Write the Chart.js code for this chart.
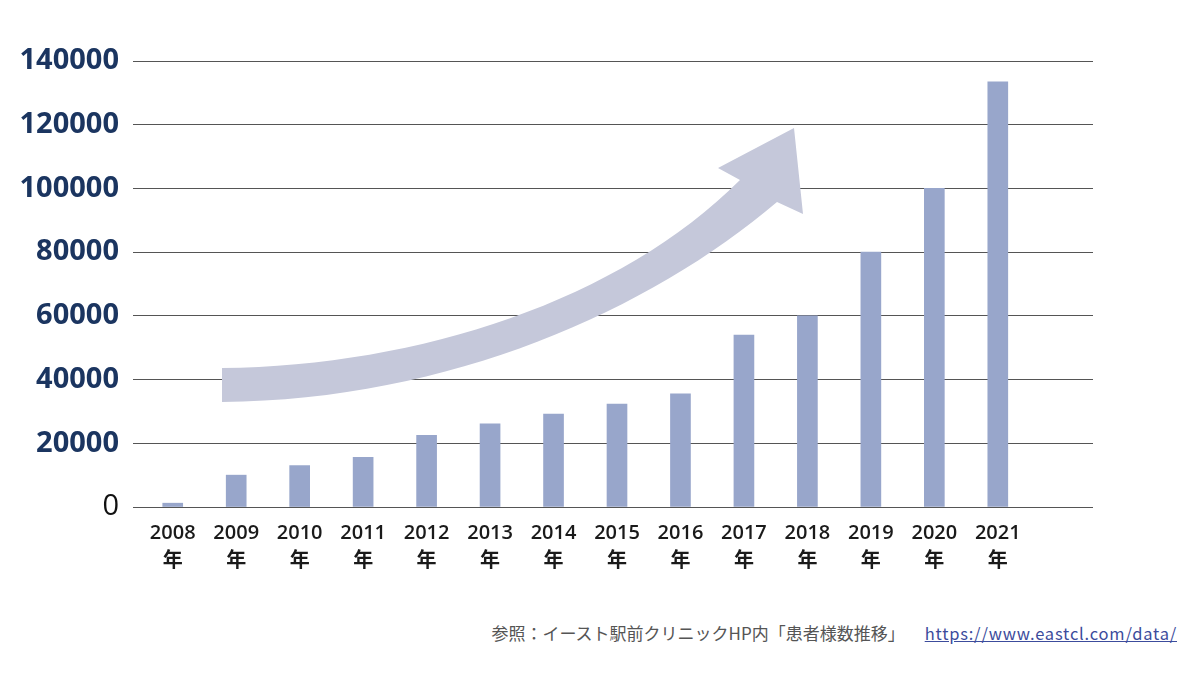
<!DOCTYPE html>
<html lang="ja">
<head>
<meta charset="utf-8">
<script src="https://cdn.jsdelivr.net/npm/chart.js@4/dist/chart.umd.min.js"></script>
<style>
  body { margin: 0; background: #fff; width: 1200px; height: 675px; position: relative; overflow: hidden; }
  #wrap { position: absolute; left: 0; top: 0; width: 1200px; height: 600px; }
  #note {
    position: absolute; right: 23px; top: 620px;
    font-family: "Noto Sans CJK JP", "Noto Sans", sans-serif;
    font-size: 17px; color: #555; white-space: nowrap;
  }
  #note a { color: #3c4c9c; text-decoration: underline; margin-left: 20px; font-size: 16.5px; letter-spacing: 0.8px; }
</style>
</head>
<body>
<div id="wrap"><canvas id="chart" width="1200" height="600"></canvas></div>
<div id="note">参照：イースト駅前クリニックHP内「患者様数推移」<a href="#">https://www.eastcl.com/data/</a></div>

<script>
// Data
const years = ['2008', '2009', '2010', '2011', '2012', '2013', '2014',
               '2015', '2016', '2017', '2018', '2019', '2020', '2021'];
const patients = [1200, 10000, 13000, 15600, 22500, 26100, 29200,
                  32300, 35500, 54000, 60000, 80000, 100000, 133500];
const yTicks = [0, 20000, 40000, 60000, 80000, 100000, 120000, 140000];

// Curved "growth" arrow behind the bars
const arrowPlugin = {
    id: 'arrow',
    beforeDatasetsDraw(chart) {
        const c = chart.ctx;
        c.save();
        c.fillStyle = '#c5c8da';
        c.beginPath();
        c.moveTo(222, 368);
        c.lineTo(222, 402);
        c.bezierCurveTo(450, 400, 650, 310, 777, 202);
        c.lineTo(803, 214);
        c.lineTo(794, 128);
        c.lineTo(718, 168);
        c.lineTo(740, 180);
        c.bezierCurveTo(620, 300, 420, 366, 222, 368);
        c.closePath();
        c.fill();
        c.restore();
    }
};

// one empty slot on the right, the plot runs past 2021
const labels = years.map(y => [y, '年']).concat(['']);

new Chart(document.getElementById('chart'), {
    type: 'bar',
    data: {
        labels: labels,
        datasets: [{
            data: patients,
            backgroundColor: '#98a6cb',
            barThickness: 20
        }]
    },
    options: {
        responsive: false,
        animation: false,
        layout: { padding: { top: 61, right: 107, bottom: 13, left: 0 } },
        plugins: { legend: { display: false }, tooltip: { enabled: false } },
        scales: {
            x: {
                grid: { display: false },
                border: { display: false },
                afterFit(scale) { scale.height = 80; },
                ticks: {
                    color: '#1a1a1a',
                    padding: 4,
                    maxRotation: 0,
                    autoSkip: false,
                    font: { family: '"Open Sans", "Noto Sans CJK JP", sans-serif', size: 20, weight: '600', lineHeight: 1.4 }
                }
            },
            y: {
                min: 0,
                max: 140000,
                afterBuildTicks(scale) { scale.ticks = yTicks.map(v => ({ value: v })); },
                afterFit(scale) { scale.width = 141; },
                border: { display: false },
                grid: { color: '#555555', lineWidth: 1, tickLength: 8 },
                ticks: {
                    padding: 14,
                    color: ctx => ctx.tick.value === 0 ? '#111' : '#1b3560',
                    font: ctx => ({
                        family: '"Open Sans", sans-serif',
                        size: 29,
                        weight: ctx.tick && ctx.tick.value === 0 ? 'normal' : 'bold'
                    }),
                    callback: v => String(v)
                }
            }
        }
    },
    plugins: [arrowPlugin]
});
</script>
</body>
</html>
